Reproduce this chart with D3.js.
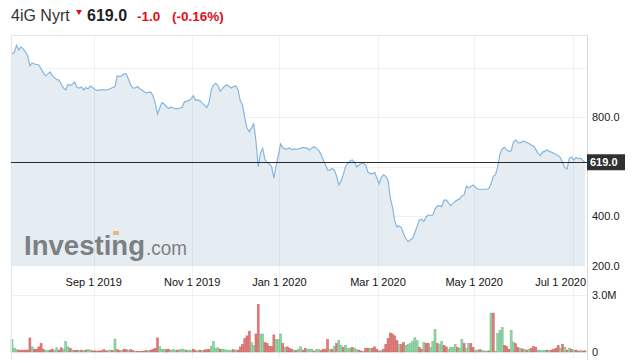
<!DOCTYPE html>
<html>
<head>
<meta charset="utf-8">
<script src="https://cdn.jsdelivr.net/npm/d3@7"></script>
<style>
body { margin: 0; background: #fff; }
svg { font-family: "Liberation Sans", Arial, sans-serif; display: block; }
</style>
</head>
<body>
<div id="chart"></div>
<script>
// daily closes, one per trading day (Jul 2019 - Jul 2020)
var closes = [1056,1063,1091,1073,1085,1077,1065,1048,1008,1020,1016,1014,1012,996,980,968,976,984,970,960,
  953,951,935,919,911,933,929,935,943,923,919,923,911,921,915,927,921,913,909,911,
  911,911,911,913,917,921,924,968,966,968,976,976,955,931,919,919,925,917,911,904,
  899,901,903,887,858,814,838,860,854,844,836,842,838,836,836,838,840,863,865,869,
  875,888,869,871,867,858,850,840,858,911,931,938,929,905,915,927,931,925,919,925,
  927,911,867,850,798,756,743,758,774,705,600,657,675,630,618,612,600,556,604,648,
  693,677,673,673,677,669,673,671,673,676,679,677,675,669,677,682,676,667,652,630,
  610,588,586,594,588,564,527,543,568,602,614,624,628,620,600,608,614,614,608,578,
  574,572,578,556,531,558,568,562,547,475,438,382,358,362,354,329,310,298,306,312,
  335,360,386,388,380,398,406,404,406,430,442,444,440,465,467,455,444,452,461,467,
  471,483,487,523,515,521,527,519,511,509,510,510,511,513,531,562,568,600,652,673,
  679,669,663,665,700,709,698,697,703,703,699,695,689,685,671,655,646,660,663,669,
  663,660,655,650,646,638,618,598,592,636,640,628,638,634,636,626,619];

// volume in millions
var volumes = [0.65,0.2,0.12,0.1,0.1,0.1,0.1,0.1,0.74,0.27,0.15,0.15,0.27,0.45,0.15,0.08,0.08,0.1,0.15,0.08,
  0.22,0.1,0.22,0.15,0.55,0.27,0.2,0.1,0.08,0.1,0.08,0.1,0.08,0.1,0.12,0.1,0.06,0.06,0.05,0.06,
  0.06,0.12,0.06,0.08,0.1,0.08,0.68,0.12,0.08,0.08,0.15,0.12,0.08,0.12,0.08,0.03,0.02,0.02,0.03,0.05,
  0.08,0.08,0.1,0.15,0.2,0.74,0.3,0.15,0.15,0.12,0.15,0.1,0.12,0.1,0.1,0.12,0.15,0.12,0.08,0.1,
  0.08,0.15,0.08,0.06,0.1,0.08,0.1,0.12,0.15,0.3,0.55,0.2,0.22,0.15,0.15,0.12,0.1,0.08,0.1,0.12,
  0.1,0.1,0.27,0.4,0.7,0.85,1.1,0.5,0.35,0.95,2.5,0.93,0.95,0.5,0.45,0.3,0.3,0.9,0.65,0.65,
  0.95,0.45,0.25,0.27,0.2,0.15,0.1,0.08,0.15,0.27,0.1,0.2,0.12,0.15,0.15,0.05,0.12,0.12,0.08,0.15,
  0.15,0.65,0.15,0.15,0.3,0.45,0.6,0.35,0.25,0.35,0.2,0.2,0.25,0.2,0.12,0.1,0.05,0.03,0.2,0.2,
  0.2,0.2,0.27,0.15,0.05,0.08,0.15,0.4,0.7,1.0,0.95,0.85,0.6,0.4,0.4,0.5,0.35,0.4,0.45,0.55,
  0.75,0.6,0.25,0.15,0.5,0.45,0.45,0.25,0.55,1.18,0.45,0.4,0.55,0.35,0.27,0.15,0.25,0.25,0.4,0.25,
  0.2,0.65,0.45,0.2,0.45,0.45,0.25,0.1,0.1,0.12,0.1,0.05,0.05,0.06,2.05,2.05,0.05,0.97,1.14,1.28,
  0.35,0.3,0.15,1.14,0.53,0.44,0.25,0.2,0.16,0.15,0.1,0.15,0.2,0.3,0.25,0.1,0.1,0.06,0.08,0.1,
  0.08,0.1,0.15,0.2,0.35,0.2,0.4,0.25,0.1,0.2,0.15,0.1,0.1,0.05,0.08,0.05,0.06];

// 1 = green (up) bar, 0 = red (down) bar
var volUp = [1,1,1,0,0,0,0,0,0,1,0,0,0,0,0,1,1,0,0,1,
  1,0,0,1,1,1,0,1,0,0,1,0,1,0,1,1,0,0,0,0,
  0,0,0,1,1,0,1,0,0,1,0,0,1,0,0,1,0,0,0,0,
  0,1,0,0,0,0,1,1,1,0,0,1,1,1,0,1,1,1,0,1,
  1,0,0,1,0,1,0,0,0,1,1,1,1,0,1,1,1,1,1,0,
  1,0,0,0,0,0,0,1,1,0,0,1,1,0,0,0,0,0,1,1,
  1,0,1,0,0,0,1,0,1,1,0,0,1,1,1,0,1,1,0,0,
  0,0,1,0,1,0,1,1,0,1,1,1,0,1,1,0,0,1,0,0,
  1,0,0,0,0,1,0,0,0,0,0,0,0,1,0,0,1,1,1,1,
  1,1,0,0,1,0,0,1,1,1,0,1,1,0,0,1,1,1,1,0,
  1,1,0,1,1,0,0,1,1,0,1,1,1,0,1,0,1,1,1,1,
  0,0,0,1,1,0,0,1,0,1,0,1,0,0,0,1,1,1,1,0,
  1,0,0,0,0,1,0,1,0,1,0,1,0,0,1,0,0];

// first trading day of each labelled month
var tickIdx = [37, 81, 120, 164, 207, 251];
var tickLabels = ["Sep 1 2019", "Nov 1 2019", "Jan 1 2020", "Mar 1 2020", "May 1 2020", "Jul 1 2020"];
var priceTicks = [200, 400, 600, 800, 1000];
var priceLabels = [200, 400, 800];
var volTicks = [0, 3];

var last = 619.0, change = -1.0, changePct = -0.16;

var width = 644, height = 363;
var left = 11, right = 588;
var priceTop = 35, priceBottom = 266;
var volTop = 295, volBottom = 352;

var fmt1 = d => d.toFixed(1);

var svg = d3.select("#chart").append("svg")
    .attr("width", width)
    .attr("height", height);

var x = d3.scaleLinear().domain([0, closes.length - 1]).range([12, 585]);
var y = d3.scaleLinear().domain([200, 1133]).range([priceBottom, priceTop]);
var yv = d3.scaleLinear().domain([0, 3]).range([volBottom, volTop]);

// grid
svg.append("g").selectAll("line")
    .data(priceTicks.slice(1))
    .enter().append("line")
    .attr("x1", left).attr("x2", right)
    .attr("y1", d => Math.round(y(d)) + 0.5).attr("y2", d => Math.round(y(d)) + 0.5)
    .attr("stroke", "#eff2f5")

svg.append("line")
    .attr("x1", left).attr("x2", right)
    .attr("y1", Math.round(yv(3)) + 0.5).attr("y2", Math.round(yv(3)) + 0.5)
    .attr("stroke", "#eff2f5")

// price area + line
var area = d3.area()
    .x((d, i) => x(i))
    .y0(priceBottom)
    .y1(d => y(d));

var line = d3.line()
    .x((d, i) => x(i))
    .y(d => y(d));

svg.append("path")
    .datum(closes)
    .attr("d", area)
    .attr("fill", "#e5edf3")

svg.append("g").selectAll("line")
    .data(tickIdx)
    .enter().append("line")
    .attr("x1", d => Math.round(x(d - 0.5)) + 0.5).attr("x2", d => Math.round(x(d - 0.5)) + 0.5)
    .attr("y1", priceTop).attr("y2", 358)
    .attr("stroke", "#000")
    .attr("stroke-opacity", 0.05)

// watermark
var wm = svg.append("g").attr("transform", "translate(24,255)")
wm.append("text")
    .text("Investing")
    .attr("font-size", 27)
    .attr("font-weight", "bold")
    .attr("textLength", 121)
    .attr("lengthAdjust", "spacingAndGlyphs")
    .attr("fill", "#7d7f83")
wm.append("text")
    .text(".com")
    .attr("x", 122)
    .attr("font-size", 21)
    .attr("textLength", 41)
    .attr("lengthAdjust", "spacingAndGlyphs")
    .attr("fill", "#7d7f83")
wm.append("rect")
    .attr("x", 89).attr("y", -24)
    .attr("width", 6).attr("height", 4)
    .attr("fill", "#e8b883")

svg.append("path")
    .datum(closes)
    .attr("d", line)
    .attr("fill", "none")
    .attr("stroke", "#86b6de")
    .attr("stroke-width", 1.2)

// volume bars
svg.append("g").selectAll("rect")
    .data(volumes)
    .enter().append("rect")
    .attr("x", (d, i) => x(i) - 1)
    .attr("width", 2)
    .attr("y", d => yv(d))
    .attr("height", d => volBottom - yv(d))
    .attr("fill", (d, i) => volUp[i] ? "#96d4a6" : "#e07b7b")
    .attr("stroke", (d, i) => volUp[i] ? "#69bb85" : "#cf5f5f")
    .attr("stroke-width", 0.5)

// borders
svg.append("line").attr("x1", left + 0.5).attr("x2", left + 0.5).attr("y1", priceTop).attr("y2", 360).attr("stroke", "#e3e7eb")
svg.append("line").attr("x1", left).attr("x2", right).attr("y1", priceTop + 0.5).attr("y2", priceTop + 0.5).attr("stroke", "#e3e7eb")
svg.append("line").attr("x1", right - 0.5).attr("x2", right - 0.5).attr("y1", priceTop).attr("y2", 360).attr("stroke", "#d3d9df")

// last price line and tag
svg.append("line")
    .attr("x1", left).attr("x2", right)
    .attr("y1", Math.round(y(last)) + 0.5).attr("y2", Math.round(y(last)) + 0.5)
    .attr("stroke", "#2b2b2b")
    .attr("stroke-width", 1.2)

svg.append("rect")
    .attr("x", right - 1).attr("y", y(last) - 8)
    .attr("width", 38).attr("height", 16)
    .attr("fill", "#303030")
svg.append("text")
    .attr("x", right + 2).attr("y", y(last) + 4)
    .attr("font-size", 11)
    .attr("font-weight", "bold")
    .attr("fill", "#fff")
    .text(fmt1(last))

// price labels
svg.append("g").selectAll("text")
    .data(priceLabels)
    .enter().append("text")
    .attr("x", right + 4)
    .attr("y", d => y(d) + 4)
    .attr("font-size", 11)
    .attr("fill", "#1a1a1a")
    .text(d => fmt1(d))

svg.append("g").selectAll("text")
    .data(volTicks)
    .enter().append("text")
    .attr("x", right + 4)
    .attr("y", d => yv(d) + 4)
    .attr("font-size", 11)
    .attr("fill", "#1a1a1a")
    .text(d => d == 0 ? "0" : fmt1(d) + "M")

// date labels, kept inside the plot
svg.append("g").selectAll("text")
    .data(tickIdx)
    .enter().append("text")
    .attr("y", 286)
    .attr("font-size", 11)
    .attr("fill", "#111")
    .attr("text-anchor", "middle")
    .text((d, i) => tickLabels[i])
    .each(function(d) {
        var w = this.getComputedTextLength();
        var cx = Math.min(x(d - 0.5), right - 2 - w / 2);
        d3.select(this).attr("x", cx);
    })

// title
var title = svg.append("text").attr("x", 11).attr("y", 21).attr("font-size", 16)
title.append("tspan").text("4iG Nyrt").attr("fill", "#333")
title.append("tspan").text(fmt1(last)).attr("x", 87).attr("font-weight", "bold").attr("fill", "#222")
title.append("tspan").text(fmt1(change)).attr("x", 137).attr("font-size", 13.5).attr("font-weight", "bold").attr("fill", "#e0101a")
title.append("tspan").text("(" + changePct.toFixed(2) + "%)").attr("x", 172).attr("font-size", 13.5).attr("font-weight", "bold").attr("fill", "#e0101a")

svg.append("path")
    .attr("d", "M76,10 L82,10 L79,15 Z")
    .attr("fill", "#e0101a")
</script>
</body>
</html>
